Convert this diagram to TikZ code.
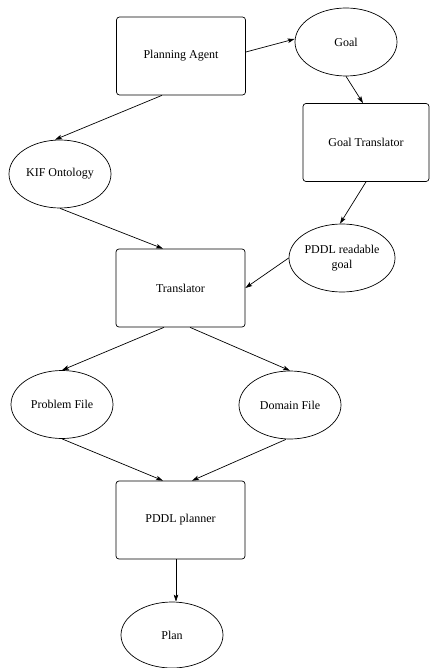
\documentclass[tikz,border=0pt]{standalone}
\usepackage{fontspec}
\setmainfont{Liberation Serif}
\usetikzlibrary{shapes.geometric,arrows.meta}

\begin{document}
\begin{tikzpicture}[x=1pt, y=-1pt, line width=0.7pt, font=\fontsize{12}{15}\selectfont,
    box/.style={draw, rounded corners=3pt, minimum width=129pt, minimum height=78pt},
    blob/.style={draw, ellipse, minimum width=102pt, minimum height=68pt, inner sep=0pt, align=center},
    link/.style={-{Stealth[length=7pt, width=4.5pt, inset=1.5pt]}}]
        \useasboundingbox (0,0) rectangle (430,668);
        \node [box] (agent) at (181,56) {Planning Agent};
        \node [blob] (goal) at (346,42) {Goal};
        \node [box, minimum width=126pt] (goaltr) at (366,142.5) {Goal Translator};
        \node [blob] (kif) at (60,174) {KIF Ontology};
        \node [blob] (pgoal) at (342,258) {PDDL readable\\goal};
        \node [box] (transl) at (180.5,288) {Translator};
        \node [blob] (problem) at (62,404.5) {Problem File};
        \node [blob] (domain) at (290,405) {Domain File};
        \node [box] (planner) at (180.5,520) {PDDL planner};
        \node [blob, minimum height=66pt] (plan) at (172,635) {Plan};
        \draw [link] ([yshift=4pt]agent.east) -- ([yshift=3pt]goal.west);
        \draw [link] (goal.south) -- ([xshift=-3pt]goaltr.north);
        \draw [link] ([xshift=-19pt]agent.south) -- ([xshift=-5pt]kif.north);
        \draw [link] (kif.south) -- ([xshift=-17.5pt]transl.north);
        \draw [link] (goaltr.south) -- ([xshift=-2pt]pgoal.north);
        \draw [link] (pgoal.west) -- (transl.east);
        \draw [link] ([xshift=-16.5pt]transl.south) -- (problem.north);
        \draw [link] ([xshift=9.5pt]transl.south) -- (domain.north);
        \draw [link] (problem.south) -- ([xshift=-17.5pt]planner.north);
        \draw [link] ([xshift=-4pt]domain.south) -- ([xshift=11.5pt]planner.north);
        \draw [link] ([xshift=-4.5pt]planner.south) -- ([xshift=4pt]plan.north);
    \end{tikzpicture}
\end{document}
